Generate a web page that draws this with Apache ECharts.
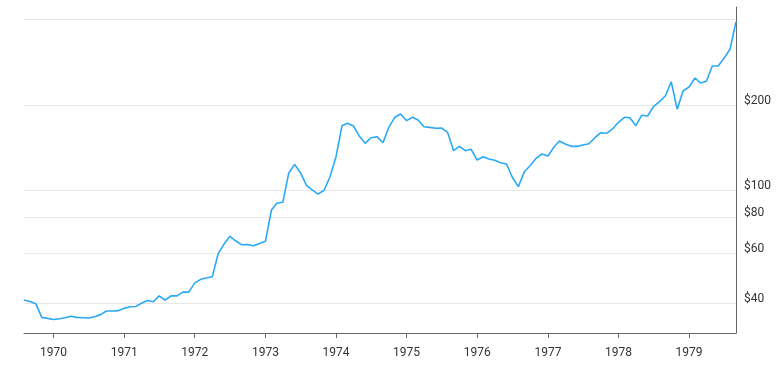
<!DOCTYPE html>
<html><head><meta charset="utf-8">
<script src="https://cdn.jsdelivr.net/npm/echarts@6/dist/echarts.min.js"></script>
<style>html,body{margin:0;padding:0;background:#fff}#c{width:780px;height:375px}</style>
</head><body><div id="c"></div>
<script>
// Monthly prices (USD), first value = August 1969
const startYear = 1969, startMonth = 8;
const price1969 = [41.0, 40.5, 39.8, 35.6, 35.3];
const price1970 = [35.0, 35.2, 35.5, 35.9, 35.6, 35.5, 35.4, 35.8, 36.4, 37.5, 37.5, 37.6];
const price1971 = [38.3, 38.8, 38.9, 39.9, 40.8, 40.4, 42.4, 41.0, 42.4, 42.4, 43.7, 43.7];
const price1972 = [47.0, 48.5, 49.0, 49.5, 59.6, 64.6, 68.8, 66.2, 64.2, 64.4, 63.7, 64.9];
const price1973 = [66.1, 85.2, 90.0, 90.7, 114.8, 123.4, 115.4, 104.1, 100.2, 97.0, 100.2, 111.6];
const price1974 = [131.4, 169.0, 172.3, 168.6, 155.5, 146.5, 153.3, 154.6, 147.2, 166.8, 181.0, 185.9];
const price1975 = [176.1, 181.0, 177.1, 167.7, 166.8, 165.5, 165.9, 160.2, 138.0, 143.0, 138.0, 139.5];
const price1976 = [127.9, 131.4, 128.9, 127.6, 125.1, 123.8, 111.2, 103.0, 116.3, 122.1, 129.7, 134.3];
const price1977 = [132.1, 141.8, 149.2, 145.6, 142.9, 142.9, 144.5, 146.0, 153.3, 159.7, 158.9, 164.6];
const price1978 = [173.8, 181.0, 180.4, 169.0, 184.0, 182.9, 197.3, 205.4, 215.7, 241.7, 193.1, 224.1];
const price1979 = [231.5, 249.1, 239.2, 242.5, 274.6, 274.6, 292.3, 314.6, 393.6];

const yGridValues = [40, 60, 80, 100, 200, 400];
const yLabelValues = [40, 60, 80, 100, 200];

const allPrices = [].concat(price1969, price1970, price1971, price1972, price1973,
  price1974, price1975, price1976, price1977, price1978, price1979);
const seriesData = allPrices.map(function (v, k) {
  const m0 = startMonth - 1 + k;
  const y = startYear + Math.floor(m0 / 12);
  const m = (m0 % 12) + 1;
  return [y + '-' + (m < 10 ? '0' + m : m) + '-01', v];
});

const chart = echarts.init(document.getElementById('c'), null, { renderer: 'canvas' });
chart.setOption({
  animation: false,
  backgroundColor: '#fff',
  textStyle: { fontFamily: 'Roboto' },
  grid: { left: 24, right: 44, top: 7, bottom: 42, outerBoundsMode: 'none' },
  xAxis: {
    type: 'time',
    min: 'dataMin',
    max: 'dataMax',
    splitNumber: 10,
    minInterval: 365 * 24 * 3600 * 1000,
    maxInterval: 366 * 24 * 3600 * 1000,
    axisLine: { show: true, lineStyle: { color: '#666', width: 1 } },
    axisTick: { show: true, length: 5, lineStyle: { color: '#666' } },
    axisLabel: { formatter: '{yyyy}', color: '#333', fontSize: 12, margin: 14, fontFamily: 'Roboto' },
    splitLine: { show: false }
  },
  yAxis: {
    type: 'log',
    logBase: 10,
    position: 'right',
    min: 31.35,
    max: 443.6,
    axisLine: { show: true, lineStyle: { color: '#666', width: 1 } },
    axisTick: { show: false, customValues: yGridValues },
    axisLabel: {
      customValues: yLabelValues,
      formatter: function (v) { return '$' + v; },
      color: '#333', fontSize: 12, margin: 8, fontFamily: 'Roboto',
      verticalAlign: 'bottom', lineHeight: 9
    },
    splitLine: { show: true, customValues: yGridValues, lineStyle: { color: '#e8e8e8', width: 1 } }
  },
  series: [{
    type: 'line',
    data: seriesData,
    showSymbol: false,
    symbol: 'none',
    lineStyle: { color: '#2BA9F5', width: 1.6 },
    itemStyle: { color: '#2BA9F5' }
  }]
});
</script>
</body></html>
